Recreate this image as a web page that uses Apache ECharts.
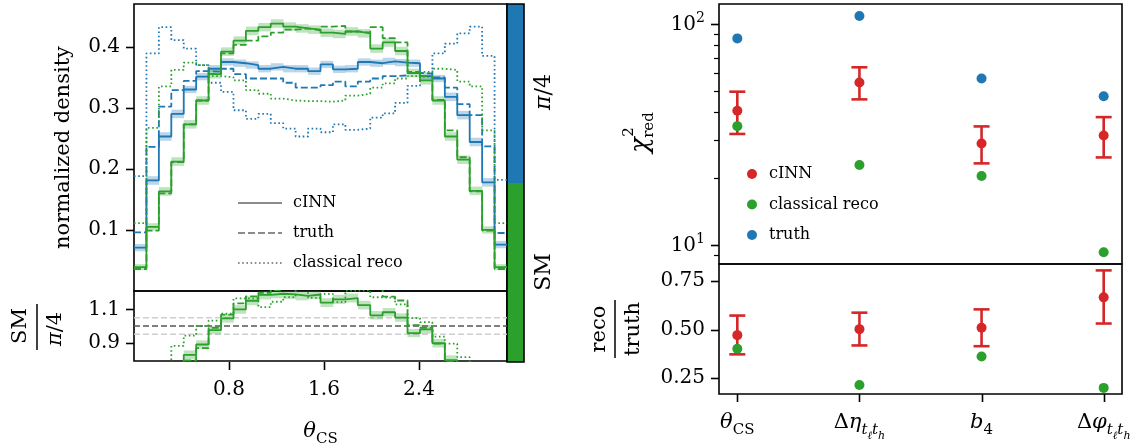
<!DOCTYPE html>
<html><head><meta charset="utf-8">
<script src="https://cdn.jsdelivr.net/npm/echarts@6/dist/echarts.min.js"></script>
<style>html,body{margin:0;padding:0;background:#fff}#c{width:1147px;height:448px}</style>
</head><body><div id="c"></div>
<script>
const FONT = 'DejaVu Serif';
const blue = '#1f77b4', green = '#2ca02c', red = '#d62728';

// ---- left panel: theta_CS histograms, 30 bins on [0, pi] ----
const binEdges = [0.0000,0.1047,0.2094,0.3142,0.4189,0.5236,0.6283,0.7330,0.8378,0.9425,1.0472,1.1519,1.2566,1.3614,1.4661,1.5708,1.6755,1.7802,1.8850,1.9897,2.0944,2.1991,2.3038,2.4086,2.5133,2.6180,2.7227,2.8274,2.9322,3.0369,3.1416];
const cinnPi4  = [0.071,0.181,0.253,0.290,0.330,0.351,0.364,0.375,0.373,0.370,0.364,0.367,0.364,0.364,0.360,0.371,0.363,0.364,0.375,0.373,0.376,0.374,0.373,0.352,0.348,0.318,0.288,0.244,0.178,0.076];
const cinnPi4Err = [0.006,0.007,0.007,0.007,0.006,0.006,0.006,0.006,0.006,0.006,0.006,0.006,0.006,0.006,0.006,0.006,0.006,0.006,0.006,0.006,0.006,0.006,0.006,0.006,0.006,0.007,0.007,0.007,0.007,0.006];
const cinnSM   = [0.039,0.105,0.163,0.212,0.273,0.312,0.355,0.392,0.410,0.426,0.432,0.438,0.433,0.430,0.428,0.423,0.421,0.425,0.422,0.397,0.407,0.393,0.357,0.345,0.312,0.253,0.215,0.164,0.100,0.039];
const cinnSMErr = [0.005,0.006,0.007,0.007,0.007,0.007,0.007,0.007,0.007,0.007,0.007,0.007,0.007,0.007,0.007,0.007,0.007,0.007,0.007,0.007,0.007,0.007,0.007,0.007,0.007,0.007,0.007,0.007,0.006,0.005];
const truthPi4 = [0.096,0.236,0.302,0.329,0.344,0.360,0.359,0.364,0.355,0.348,0.348,0.348,0.341,0.333,0.333,0.337,0.343,0.335,0.343,0.348,0.352,0.353,0.357,0.356,0.350,0.333,0.306,0.288,0.237,0.095];
const truthSM  = [0.036,0.099,0.160,0.211,0.273,0.312,0.355,0.389,0.403,0.410,0.417,0.423,0.428,0.430,0.427,0.433,0.434,0.425,0.423,0.432,0.414,0.407,0.359,0.352,0.313,0.263,0.219,0.163,0.099,0.036];
const recoPi4  = [0.188,0.389,0.432,0.411,0.397,0.370,0.341,0.326,0.296,0.282,0.290,0.275,0.266,0.253,0.266,0.260,0.273,0.264,0.266,0.284,0.291,0.308,0.336,0.351,0.389,0.405,0.422,0.433,0.385,0.182];
const recoSM   = [0.111,0.267,0.335,0.362,0.374,0.370,0.352,0.350,0.345,0.329,0.323,0.315,0.312,0.311,0.311,0.310,0.312,0.320,0.323,0.333,0.340,0.348,0.352,0.359,0.364,0.362,0.343,0.335,0.263,0.111];
const leftYTicks = [0.1, 0.2, 0.3, 0.4];
const leftRatioTicks = [0.9, 1.1];
const leftXTicks = [0.8, 1.6, 2.4];
const refLines = [0.95, 1.0, 1.05];

// ---- right panel: chi2_red and reco/truth per observable ----
const observables = ['theta_CS', 'dEta_tltl', 'b4', 'dPhi_tltl'];
const obsPos = [0, 1, 2, 3];
const obsLabels = ['{i|θ}{s|CS}', '{m|Δ}{i|η}{t|t}{u|ℓ}{t|t}{u|h}', '{i|b}{s|4}', '{m|Δ}{i|φ}{t|t}{u|ℓ}{t|t}{u|h}'];
const chi2Cinn     = [40.5, 54.4, 28.8, 31.3];
const chi2CinnLow  = [31.8, 45.6, 23.4, 24.9];
const chi2CinnHigh = [49.4, 63.7, 34.4, 37.9];
const chi2Reco     = [34.5, 23.0, 20.5, 9.27];
const chi2Truth    = [86.1, 108.7, 56.7, 47.1];
const ratioCinn     = [0.471, 0.502, 0.509, 0.666];
const ratioCinnLow  = [0.372, 0.418, 0.414, 0.531];
const ratioCinnHigh = [0.572, 0.587, 0.604, 0.805];
const ratioReco     = [0.401, 0.214, 0.361, 0.199];
const rightYTicks = [10, 100];
const rightYMinor = [9, 20, 30, 40, 50, 60, 70, 80, 90];
const rightRatioTicks = [0.25, 0.5, 0.75];

// ---- helpers ----
function stepData(vals) {
  const d = vals.map((v, i) => [binEdges[i], v]);
  d.push([binEdges[vals.length], vals[vals.length - 1]]);
  return d;
}
const ratio = (a, b) => a.map((v, i) => v / b[i]);
const ratioErr = (a, ea, b, eb) => a.map((v, i) => (v / b[i]) * Math.sqrt(Math.pow(ea[i] / v, 2) + Math.pow(eb[i] / b[i], 2)));
const rCinn = ratio(cinnSM, cinnPi4);
const rCinnErr = ratioErr(cinnSM, cinnSMErr, cinnPi4, cinnPi4Err);
const rTruth = ratio(truthSM, truthPi4);
const rReco = ratio(recoSM, recoPi4);

const DASH = [7, 3];
const DOT = [1.6, 2.6];

function stepLine(name, vals, color, type, xi, yi) {
  return { name, type: 'line', step: 'end', xAxisIndex: xi, yAxisIndex: yi, data: stepData(vals),
    symbol: 'none', silent: true, clip: true, animation: false,
    lineStyle: { color, width: 1.8, type, cap: 'butt' }, itemStyle: { color }, z: 3 };
}
function band(vals, errs, color, xi, yi) {
  return { type: 'custom', xAxisIndex: xi, yAxisIndex: yi, silent: true, animation: false, z: 1,
    data: vals.map((v, i) => [binEdges[i], binEdges[i + 1], v - errs[i], v + errs[i]]),
    encode: { x: [0, 1], y: [2, 3] },
    renderItem: (params, api) => {
      const p0 = api.coord([api.value(0), api.value(3)]);
      const p1 = api.coord([api.value(1), api.value(2)]);
      const cs = params.coordSys;
      const r = echarts.graphic.clipRectByRect(
        { x: p0[0], y: p0[1], width: p1[0] - p0[0] + 0.3, height: p1[1] - p0[1] },
        { x: cs.x, y: cs.y, width: cs.width, height: cs.height });
      return r ? { type: 'rect', shape: r, style: { fill: color, opacity: 0.3 } } : null;
    } };
}
function hline(v, color, xi, yi) {
  return { type: 'line', xAxisIndex: xi, yAxisIndex: yi, data: [[binEdges[0], v], [binEdges[binEdges.length - 1], v]],
    symbol: 'none', silent: true, animation: false, lineStyle: { color, width: 1.5, type: [6, 3] }, z: 0 };
}
function errBars(x, lo, hi, xi, yi) {
  return { type: 'custom', xAxisIndex: xi, yAxisIndex: yi, silent: true, animation: false, z: 3,
    data: x.map((v, i) => [v, lo[i], hi[i]]),
    encode: { x: 0, y: [1, 2] },
    renderItem: (params, api) => {
      const p1 = api.coord([api.value(0), api.value(1)]);
      const p2 = api.coord([api.value(0), api.value(2)]);
      const st = { stroke: red, lineWidth: 2.6 };
      return { type: 'group', children: [
        { type: 'line', shape: { x1: p1[0], y1: p1[1], x2: p2[0], y2: p2[1] }, style: st },
        { type: 'line', shape: { x1: p1[0] - 8, y1: p1[1], x2: p1[0] + 8, y2: p1[1] }, style: st },
        { type: 'line', shape: { x1: p2[0] - 8, y1: p2[1], x2: p2[0] + 8, y2: p2[1] }, style: st }
      ] };
    } };
}
function pts(name, x, y, color, xi, yi, z) {
  return { name, type: 'scatter', xAxisIndex: xi, yAxisIndex: yi, data: x.map((v, i) => [v, y[i]]),
    symbol: 'circle', symbolSize: 10, itemStyle: { color, opacity: 1 }, silent: true, animation: false, z };
}

const axLine = { show: false, onZero: false };
const noTick = { show: false };
const lblStyle = { color: '#000', fontFamily: FONT, fontSize: 20 };
const subRich = {
  i: { fontFamily: FONT, fontSize: 21, fontStyle: 'italic', lineHeight: 24, verticalAlign: 'top', color: '#000' },
  m: { fontFamily: FONT, fontSize: 21, lineHeight: 24, verticalAlign: 'top', color: '#000' },
  s: { fontFamily: FONT, fontSize: 15, lineHeight: 15, padding: [11, 0, 0, 0], verticalAlign: 'top', color: '#000' },
  t: { fontFamily: FONT, fontSize: 15, fontStyle: 'italic', lineHeight: 15, padding: [11, 0, 0, 0], verticalAlign: 'top', color: '#000' },
  u: { fontFamily: FONT, fontSize: 11, fontStyle: 'italic', lineHeight: 11, padding: [19, 0, 0, 0], verticalAlign: 'top', color: '#000' }
};
const supRich = {
  b: { fontFamily: FONT, fontSize: 20, lineHeight: 26, verticalAlign: 'top', color: '#000', padding: [4, 0, 0, 0] },
  p: { fontFamily: FONT, fontSize: 14, lineHeight: 14, verticalAlign: 'top', color: '#000' }
};
const piRich = (fs) => ({
  i: { fontFamily: FONT, fontSize: fs, fontStyle: 'italic', color: '#000' },
  n: { fontFamily: FONT, fontSize: fs, color: '#000' }
});
const hidden = { axisLine: { show: false, onZero: false }, axisTick: { show: false }, axisLabel: { show: false }, splitLine: { show: false } };

const gridBase = { show: true, borderColor: '#000', borderWidth: 1.6, backgroundColor: 'transparent', containLabel: false };
const gridRects = [
  { left: 134, top: 4, width: 373, height: 287 },
  { left: 134, top: 291, width: 373, height: 71 },
  { left: 719, top: 4, width: 403, height: 260 },
  { left: 719, top: 264, width: 403, height: 130 }
];
const xL = binEdges[0], xR = binEdges[binEdges.length - 1];
const xRanges = [[xL, xR], [xL, xR], [-0.15, 3.15], [-0.15, 3.15]];
const yRanges = [[0, 0.47], [0.79, 1.21], [8.2, 123.2], [0.1675, 0.838]];

const staticGraphic = [
  { type: 'rect', shape: { x: 507, y: 4, width: 17, height: 179 }, style: { fill: blue }, silent: true },
  { type: 'rect', shape: { x: 507, y: 183, width: 17, height: 179 }, style: { fill: green }, silent: true },
  { type: 'rect', shape: { x: 507, y: 4, width: 17, height: 358 }, style: { fill: 'none', stroke: '#000', lineWidth: 1.6 }, silent: true },
  { type: 'text', x: 544, y: 92, rotation: Math.PI / 2, style: { text: '{i|π}{n|/4}', rich: piRich(22), align: 'center', verticalAlign: 'middle' }, silent: true },
  { type: 'text', x: 544, y: 272, rotation: Math.PI / 2, style: { text: 'SM', font: '22px "DejaVu Serif"', fill: '#000', align: 'center', verticalAlign: 'middle' }, silent: true },
  { type: 'text', x: 21, y: 326, rotation: Math.PI / 2, style: { text: 'SM', font: '21px "DejaVu Serif"', fill: '#000', align: 'center', verticalAlign: 'middle' }, silent: true },
  { type: 'line', shape: { x1: 37, y1: 304, x2: 37, y2: 350 }, style: { stroke: '#000', lineWidth: 1.5 }, silent: true },
  { type: 'text', x: 56, y: 329, rotation: Math.PI / 2, style: { text: '{i|π}{n|/4}', rich: piRich(21), align: 'center', verticalAlign: 'middle' }, silent: true },
  { type: 'text', x: 641, y: 145, rotation: Math.PI / 2, style: { text: 'χ', font: 'italic 26px "DejaVu Serif"', fill: '#000', align: 'center', verticalAlign: 'middle' }, silent: true },
  { type: 'text', x: 629, y: 132, rotation: Math.PI / 2, style: { text: '2', font: '15px "DejaVu Serif"', fill: '#000', align: 'center', verticalAlign: 'middle' }, silent: true },
  { type: 'text', x: 649, y: 125, rotation: Math.PI / 2, style: { text: 'red', font: '15px "DejaVu Serif"', fill: '#000', align: 'center', verticalAlign: 'middle' }, silent: true },
  { type: 'text', x: 600, y: 329, rotation: Math.PI / 2, style: { text: 'reco', font: '21px "DejaVu Serif"', fill: '#000', align: 'center', verticalAlign: 'middle' }, silent: true },
  { type: 'line', shape: { x1: 615, y1: 300, x2: 615, y2: 358 }, style: { stroke: '#000', lineWidth: 1.5 }, silent: true },
  { type: 'text', x: 634, y: 329, rotation: Math.PI / 2, style: { text: 'truth', font: '21px "DejaVu Serif"', fill: '#000', align: 'center', verticalAlign: 'middle' }, silent: true }
];

const option = {
  animation: false,
  backgroundColor: '#fff',
  grid: gridRects.map(r => Object.assign({}, r, gridBase)),
  xAxis: [
    Object.assign({ type: 'value', gridIndex: 0, min: xRanges[0][0], max: xRanges[0][1] }, hidden),
    { type: 'value', gridIndex: 1, min: xRanges[1][0], max: xRanges[1][1], axisLine: axLine, splitLine: { show: false }, axisTick: noTick,
      axisLabel: Object.assign({ customValues: leftXTicks, margin: 19, formatter: v => v.toFixed(1) }, lblStyle),
      name: '{i|θ}{s|CS}', nameLocation: 'middle', nameGap: 60,
      nameTextStyle: { rich: subRich } },
    Object.assign({ type: 'value', gridIndex: 2, min: xRanges[2][0], max: xRanges[2][1] }, hidden),
    { type: 'value', gridIndex: 3, min: xRanges[3][0], max: xRanges[3][1], axisLine: axLine, splitLine: { show: false }, axisTick: noTick,
      axisLabel: { customValues: obsPos, margin: 18, formatter: v => obsLabels[Math.round(v)], rich: subRich } }
  ],
  yAxis: [
    { type: 'value', gridIndex: 0, min: yRanges[0][0], max: yRanges[0][1], axisLine: axLine, splitLine: { show: false }, axisTick: noTick,
      axisLabel: Object.assign({ customValues: leftYTicks, margin: 14, formatter: v => v.toFixed(1) }, lblStyle),
      name: 'normalized density', nameLocation: 'middle', nameGap: 60,
      nameTextStyle: { fontFamily: FONT, fontSize: 21, color: '#000' } },
    { type: 'value', gridIndex: 1, min: yRanges[1][0], max: yRanges[1][1], axisLine: axLine, splitLine: { show: false }, axisTick: noTick,
      axisLabel: Object.assign({ customValues: leftRatioTicks, margin: 14, formatter: v => v.toFixed(1) }, lblStyle) },
    { type: 'log', gridIndex: 2, min: yRanges[2][0], max: yRanges[2][1], position: 'left', axisLine: axLine, splitLine: { show: false }, axisTick: noTick,
      axisLabel: { customValues: rightYTicks, margin: 14, formatter: v => '{b|10}{p|' + Math.round(Math.log10(v)) + '}', rich: supRich } },
    { type: 'value', gridIndex: 3, min: yRanges[3][0], max: yRanges[3][1], axisLine: axLine, splitLine: { show: false }, axisTick: noTick,
      axisLabel: Object.assign({ customValues: rightRatioTicks, margin: 14, formatter: v => v.toFixed(2) }, lblStyle) }
  ],
  legend: [
    { data: ['cINN ', 'truth ', 'classical reco '], orient: 'vertical', left: 232, top: 188, itemWidth: 44, itemHeight: 20, itemGap: 10,
      selectedMode: false, itemStyle: { opacity: 0 },
      textStyle: { fontFamily: FONT, fontSize: 16, color: '#000', lineHeight: 20, padding: [0, 0, 0, 6] } },
    { data: ['cINN', 'classical reco', 'truth'], orient: 'vertical', left: 742, top: 159, itemWidth: 10, itemHeight: 10, itemGap: 10.5,
      icon: 'circle', selectedMode: false, textStyle: { fontFamily: FONT, fontSize: 16, color: '#000', lineHeight: 20, padding: [0, 0, 0, 7] } }
  ],
  series: [
    band(cinnPi4, cinnPi4Err, blue, 0, 0),
    band(cinnSM, cinnSMErr, green, 0, 0),
    stepLine('_cinnPi4', cinnPi4, blue, 'solid', 0, 0),
    stepLine('_truthPi4', truthPi4, blue, DASH, 0, 0),
    stepLine('_recoPi4', recoPi4, blue, DOT, 0, 0),
    stepLine('_cinnSM', cinnSM, green, 'solid', 0, 0),
    stepLine('_truthSM', truthSM, green, DASH, 0, 0),
    stepLine('_recoSM', recoSM, green, DOT, 0, 0),
    { name: 'cINN ', type: 'line', data: [], xAxisIndex: 0, yAxisIndex: 0, symbol: 'none', itemStyle: { color: '#8c8c8c' }, lineStyle: { color: '#8c8c8c', width: 1.8 } },
    { name: 'truth ', type: 'line', data: [], xAxisIndex: 0, yAxisIndex: 0, symbol: 'none', itemStyle: { color: '#8c8c8c' }, lineStyle: { color: '#8c8c8c', width: 1.8, type: DASH } },
    { name: 'classical reco ', type: 'line', data: [], xAxisIndex: 0, yAxisIndex: 0, symbol: 'none', itemStyle: { color: '#8c8c8c' }, lineStyle: { color: '#8c8c8c', width: 1.8, type: DOT } },
    hline(refLines[0], '#cfcfcf', 1, 1), hline(refLines[2], '#cfcfcf', 1, 1), hline(refLines[1], '#555', 1, 1),
    band(rCinn, rCinnErr, green, 1, 1),
    stepLine('_rCinn', rCinn, green, 'solid', 1, 1),
    stepLine('_rTruth', rTruth, green, DASH, 1, 1),
    stepLine('_rReco', rReco, green, DOT, 1, 1),
    errBars(obsPos, chi2CinnLow, chi2CinnHigh, 2, 2),
    pts('cINN', obsPos, chi2Cinn, red, 2, 2, 4),
    pts('classical reco', obsPos, chi2Reco, green, 2, 2, 5),
    pts('truth', obsPos, chi2Truth, blue, 2, 2, 5),
    errBars(obsPos, ratioCinnLow, ratioCinnHigh, 3, 3),
    pts('cINN', obsPos, ratioCinn, red, 3, 3, 4),
    pts('classical reco', obsPos, ratioReco, green, 3, 3, 5)
  ],
  graphic: staticGraphic
};
const chart = echarts.init(document.getElementById('c'), null, { renderer: 'canvas' });
chart.setOption(option);

// ---- tick marks (outside each frame), positioned through the axes' scales ----
function yPix(g, v) {
  let r = null;
  try { r = chart.convertToPixel({ yAxisIndex: g }, v); } catch (e) { r = null; }
  if (typeof r === 'number' && isFinite(r)) return r;
  const gr = gridRects[g], ext = yRanges[g];
  const f = g === 2 ? (Math.log10(v) - Math.log10(ext[0])) / (Math.log10(ext[1]) - Math.log10(ext[0])) : (v - ext[0]) / (ext[1] - ext[0]);
  return gr.top + gr.height * (1 - f);
}
function xPix(g, v) {
  let r = null;
  try { r = chart.convertToPixel({ xAxisIndex: g }, v); } catch (e) { r = null; }
  if (typeof r === 'number' && isFinite(r)) return r;
  const gr = gridRects[g], ext = xRanges[g];
  return gr.left + gr.width * (v - ext[0]) / (ext[1] - ext[0]);
}
const tickEls = [];
function yTicks(g, vals, len, w) {
  const x0 = gridRects[g].left;
  vals.forEach(v => { const y = Math.round(yPix(g, v)) + 0.5;
    tickEls.push({ type: 'rect', silent: true, shape: { x: x0 - len, y: y - w / 2, width: len, height: w }, style: { fill: '#000' } }); });
}
function xTicks(g, vals, len, w) {
  const y0 = gridRects[g].top + gridRects[g].height;
  vals.forEach(v => { const x = Math.round(xPix(g, v)) + 0.5;
    tickEls.push({ type: 'rect', silent: true, shape: { x: x - w / 2, y: y0, width: w, height: len }, style: { fill: '#000' } }); });
}
yTicks(0, leftYTicks, 8, 1.6);
yTicks(1, leftRatioTicks, 8, 1.6);
xTicks(1, leftXTicks, 8, 1.6);
yTicks(2, rightYTicks, 8, 1.6);
yTicks(2, rightYMinor, 5, 1.2);
yTicks(3, rightRatioTicks, 8, 1.6);
xTicks(3, obsPos, 8, 1.6);
chart.setOption({ graphic: staticGraphic.concat(tickEls) });
</script>
</body></html>
